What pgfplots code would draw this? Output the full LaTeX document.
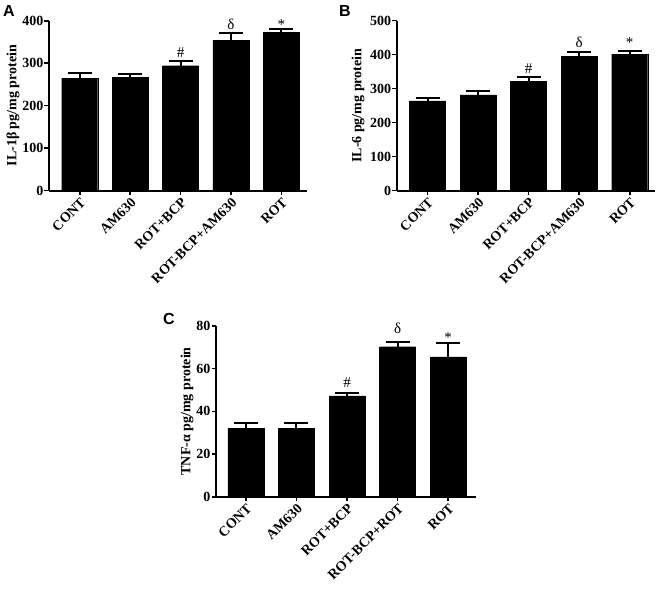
\documentclass[border=0pt]{standalone}
\usepackage{fontspec}
\setmainfont{Liberation Serif}
\newfontfamily\panelfont{Liberation Sans}
\usepackage{pgfplots}
\pgfplotsset{compat=1.18}

\pgfplotsset{
  panel/.style={
    scale only axis,
    height=170pt,
    anchor=south west,
    enlargelimits=false,
    ymin=0,
    axis x line=bottom, axis y line=left,
    axis line style={-, line width=1.8pt, black},
    tick align=outside,
    major tick length=4.5pt,
    tick style={line width=1.6pt, black},
    xtick={0,1,2,3,4},
    x tick label style={rotate=45, anchor=north east, inner sep=1pt},
    y tick label style={inner sep=1pt},
    tick label style={font=\bfseries\fontsize{14}{16}\selectfont},
    /pgf/number format/assume math mode=true,
    ylabel style={at={(axis description cs:0,0.5)}, anchor=center,
      font=\bfseries\fontsize{14}{16}\selectfont},
    clip=false,
  },
  mybars/.style={
    ybar, bar width=36pt, bar shift=0pt, fill=black, draw=black,
    error bars/.cd, y dir=plus, y explicit,
    error bar style={line width=2pt, black},
    error mark options={rotate=90, mark size=12pt, line width=2pt, black},
  },
}
\tikzset{sym/.style={anchor=base, font=\fontsize{15}{15}\selectfont, inner sep=0pt}}

\begin{document}
\begin{tikzpicture}
\useasboundingbox (0pt,0pt) rectangle (660pt,592pt);

% Panel A
\begin{axis}[panel, at={(49pt,401.3pt)}, width=258pt,
  xmin=-0.61, xmax=4.51, ymax=400, ytick={0,100,200,300,400},
  xticklabels={CONT,AM630,ROT+BCP,ROT-BCP+AM630,ROT},
  ylabel={IL-1β pg/mg protein},
  ylabel style={yshift=36pt}]
\addplot[mybars] coordinates {
  (0,265) +- (0,12.6)
  (1,267.5) +- (0,7)
  (2,294) +- (0,10.5)
  (3,353) +- (0,17)
  (4,372.7) +- (0,7.3)
};
\node[sym] at (axis cs:2,314) {\#};
\node[sym] at (axis cs:3,380) {δ};
\node[sym] at (axis cs:4,379) {*};
\end{axis}

% Panel B
\begin{axis}[panel, at={(396.7pt,401.3pt)}, width=258.3pt,
  xmin=-0.61, xmax=4.5, ymax=500, ytick={0,100,200,300,400,500},
  xticklabels={CONT,AM630,ROT+BCP,ROT-BCP+AM630,ROT},
  ylabel={IL-6 pg/mg protein},
  ylabel style={yshift=38.7pt}]
\addplot[mybars] coordinates {
  (0,264) +- (0,9)
  (1,282) +- (0,12)
  (2,322) +- (0,12)
  (3,396) +- (0,13)
  (4,402) +- (0,9)
};
\node[sym] at (axis cs:2,345) {\#};
\node[sym] at (axis cs:3,420.6) {δ};
\node[sym] at (axis cs:4,420.6) {*};
\end{axis}

% Panel C
\begin{axis}[panel, at={(216pt,95.3pt)}, width=260pt, height=170.7pt,
  xmin=-0.59, xmax=4.55, ymax=80, ytick={0,20,40,60,80},
  xticklabels={CONT,AM630,ROT+BCP,ROT-BCP+ROT,ROT},
  ylabel={TNF-α pg/mg protein},
  ylabel style={yshift=29pt}]
\addplot[mybars] coordinates {
  (0,31.9) +- (0,2.5)
  (1,32.2) +- (0,2.2)
  (2,47.2) +- (0,1.4)
  (3,70.3) +- (0,2.3)
  (4,65.5) +- (0,6.4)
};
\node[sym] at (axis cs:2,51.3) {\#};
\node[sym] at (axis cs:3,76.3) {δ};
\node[sym] at (axis cs:4,72.5) {*};
\end{axis}

\node[anchor=base west, inner sep=0pt, font=\panelfont\bfseries\fontsize{16}{16}\selectfont] at (3pt,575.5pt) {A};
\node[anchor=base west, inner sep=0pt, font=\panelfont\bfseries\fontsize{16}{16}\selectfont] at (339pt,575.5pt) {B};
\node[anchor=base west, inner sep=0pt, font=\panelfont\bfseries\fontsize{16}{16}\selectfont] at (163pt,268pt) {C};
\end{tikzpicture}
\end{document}
